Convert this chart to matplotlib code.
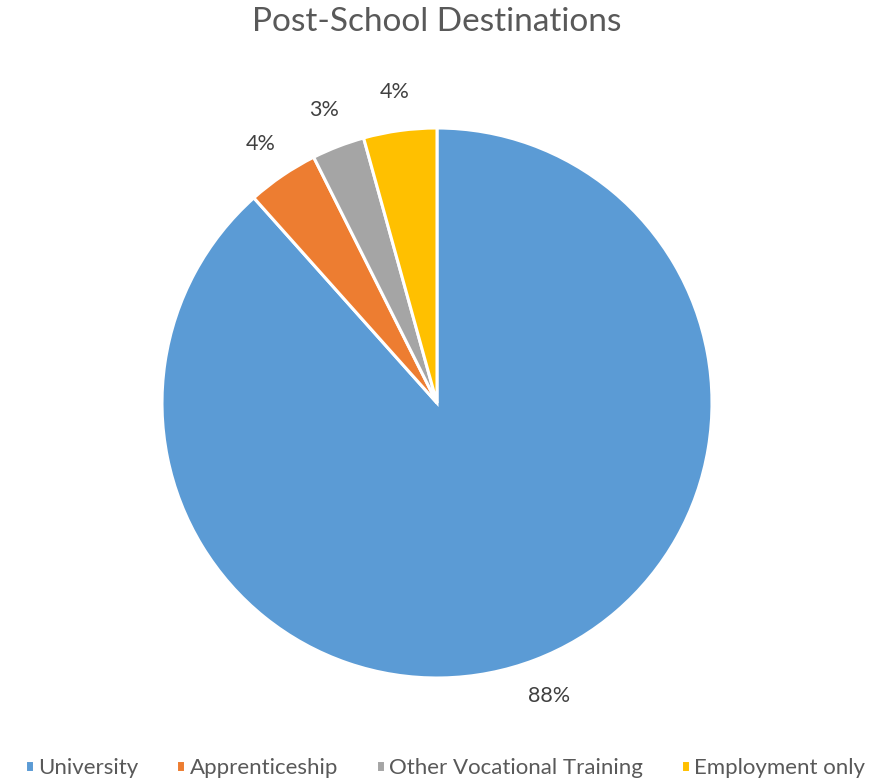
import matplotlib.pyplot as plt

plt.rcParams['font.family'] = ['Lato', 'DejaVu Sans']

categories = ["University", "Apprenticeship", "Other Vocational Training", "Employment only"]
shares = [88.4, 4.2, 3.1, 4.3]
colors = ["#5B9BD5", "#ED7D31", "#A5A5A5", "#FFC000"]

fig = plt.figure(figsize=(8.72, 7.82), dpi=100)
W, H = 872, 782
# pie centre ~ (437, 403) px, radius ~ 275 px
ax = fig.add_axes([(437 - 275) / W, (H - 403 - 275) / H, 550 / W, 550 / H])

wedges, texts, autotexts = ax.pie(
    shares, colors=colors, startangle=90, counterclock=False, radius=1,
    autopct="%1.0f%%", pctdistance=1.14,
    wedgeprops=dict(edgecolor="white", linewidth=2.2),
    textprops=dict(color="#404040", fontsize=15.5))
ax.set_xlim(-1, 1)
ax.set_ylim(-1, 1)
ax.set_aspect("auto")
ax.axis("off")

fig.text(437 / W, 1 - 22 / H, "Post-School Destinations", ha="center", va="center",
         fontsize=24, color="#595959")

fig.legend(wedges, categories, loc="center", bbox_to_anchor=(445 / W, 1 - 768 / H),
           ncol=4, frameon=False, fontsize=16, labelcolor="#595959",
           handlelength=0.4, handleheight=0.4, handletextpad=0.2, columnspacing=1.7)

fig.savefig("out.png", dpi=100, facecolor="white")
